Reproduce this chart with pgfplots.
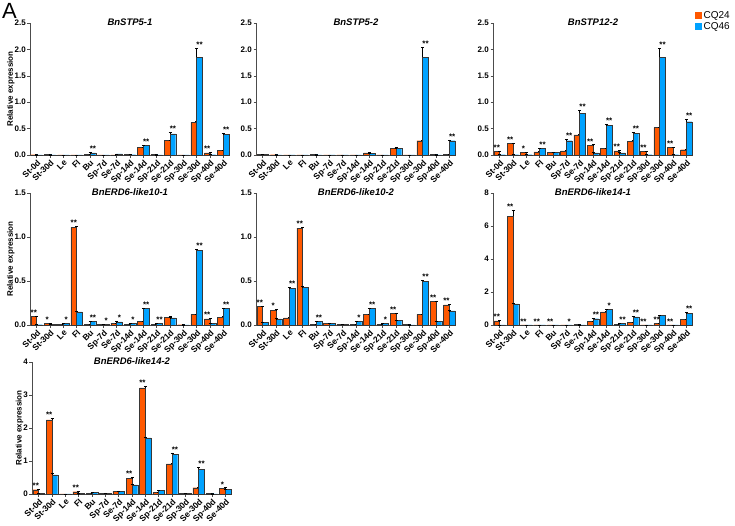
\documentclass[border=0pt]{standalone}
\usepackage{pgfplots}
\pgfplotsset{compat=1.18}
\usepackage{pgfplotstable}
\usepackage{fontspec}
\setmainfont{Liberation Sans}

\definecolor{cqA}{RGB}{255,88,0}
\definecolor{cqB}{RGB}{0,162,255}
\definecolor{edge}{RGB}{55,55,55}

% star codes: n = none, s = *, d = **
\def\stn{}
\def\sts{*}
\def\std{**}

% columns: category, CQ24 mean/err/star, CQ46 mean/err/star
\pgfplotstableread{
x a ae as b be bs
0 0.005 0 n 0.003 0 n
1 0.008 0 n 0.003 0 n
2 0.003 0 n 0.002 0 n
3 0.003 0 n 0.002 0 n
4 0.01 0 n 0.04 0.005 d
5 0.003 0 n 0.003 0 n
6 0.004 0 n 0.02 0.003 n
7 0.01 0 n 0.005 0 n
8 0.15 0.005 n 0.18 0.008 d
9 0.01 0 n 0.003 0 n
10 0.28 0.008 n 0.40 0.025 d
11 0.003 0 n 0.002 0 n
12 0.62 0.01 n 1.85 0.17 d
13 0.04 0.01 d 0.005 0 n
14 0.09 0.008 n 0.39 0.015 d
}\tabA

\pgfplotstableread{
x a ae as b be bs
0 0.01 0 n 0.008 0 n
1 0.005 0 n 0.003 0 n
2 0.002 0 n 0.002 0 n
3 0.002 0 n 0.002 0 n
4 0.006 0 n 0.003 0 n
5 0.002 0 n 0.002 0 n
6 0.002 0 n 0.002 0 n
7 0.004 0 n 0.002 0 n
8 0.04 0.003 n 0.035 0.003 n
9 0.003 0 n 0.002 0 n
10 0.12 0.005 n 0.13 0.008 n
11 0.003 0 n 0.002 0 n
12 0.27 0.01 n 1.85 0.19 d
13 0.01 0 n 0.003 0 n
14 0.006 0 n 0.27 0.015 d
}\tabB

\pgfplotstableread{
x a ae as b be bs
0 0.07 0.005 d 0.005 0 n
1 0.22 0.01 d 0.005 0 n
2 0.05 0.003 s 0.005 0 n
3 0.06 0.005 n 0.12 0.01 d
4 0.05 0.003 n 0.05 0.003 n
5 0.08 0.005 n 0.27 0.02 d
6 0.38 0.02 n 0.79 0.05 d
7 0.18 0.015 d 0.04 0.003 n
8 0.12 0.005 n 0.56 0.015 d
9 0.08 0.01 d 0.04 0.003 n
10 0.26 0.01 n 0.41 0.02 d
11 0.07 0.005 d 0.005 0 n
12 0.52 0.01 n 1.85 0.17 d
13 0.14 0.005 d 0.005 0 n
14 0.10 0.005 n 0.63 0.04 d
}\tabC

\pgfplotstableread{
x a ae as b be bs
0 0.10 0.005 d 0.003 0 n
1 0.02 0.002 s 0.01 0.001 n
2 0.01 0.001 n 0.02 0.002 s
3 1.11 0.01 d 0.15 0.005 n
4 0.01 0.001 n 0.04 0.003 d
5 0.005 0 n 0.01 0.001 s
6 0.02 0.002 n 0.035 0.003 s
7 0.005 0 n 0.02 0.002 s
8 0.04 0.003 n 0.19 0.005 d
9 0.005 0 n 0.02 0.002 d
10 0.09 0.004 n 0.08 0.004 n
11 0.003 0 n 0.002 0 n
12 0.12 0.005 n 0.85 0.01 d
13 0.07 0.004 d 0.02 0.002 n
14 0.09 0.004 n 0.19 0.005 d
}\tabD

\pgfplotstableread{
x a ae as b be bs
0 0.21 0.005 d 0.03 0.002 n
1 0.17 0.005 s 0.07 0.003 n
2 0.08 0.003 n 0.42 0.005 d
3 1.10 0.01 d 0.43 0.005 n
4 0.01 0.001 n 0.04 0.003 d
5 0.015 0.001 n 0.02 0.002 n
6 0.01 0.001 n 0.01 0.001 n
7 0.01 0.001 n 0.04 0.003 s
8 0.12 0.004 n 0.19 0.005 d
9 0.01 0.001 n 0.015 0.001 s
10 0.13 0.004 d 0.05 0.003 n
11 0.005 0 n 0.002 0 n
12 0.12 0.004 n 0.50 0.01 d
13 0.27 0.005 d 0.04 0.003 n
14 0.23 0.005 d 0.16 0.004 n
}\tabE

\pgfplotstableread{
x a ae as b be bs
0 0.25 0.02 d 0.005 0 n
1 6.60 0.35 d 1.28 0.05 n
2 0.01 0 d 0.005 0 n
3 0.01 0 d 0.005 0 n
4 0.01 0 d 0.005 0 n
5 0.005 0 n 0.005 0 s
6 0.03 0.005 n 0.01 0 n
7 0.22 0.02 n 0.38 0.03 d
8 0.80 0.02 n 0.93 0.03 s
9 0.03 0.005 n 0.12 0.01 d
10 0.17 0.01 n 0.50 0.02 d
11 0.01 0 d 0.005 0 n
12 0.08 0.005 d 0.57 0.03 n
13 0.005 0 d 0.003 0 n
14 0.33 0.02 n 0.72 0.03 d
}\tabF

\pgfplotstableread{
x a ae as b be bs
0 0.13 0.01 d 0.02 0.002 n
1 2.25 0.04 d 0.58 0.05 n
2 0.003 0 n 0.003 0 n
3 0.07 0.005 d 0.01 0.001 n
4 0.03 0.002 n 0.05 0.003 n
5 0.01 0.001 n 0.03 0.002 n
6 0.08 0.005 n 0.09 0.005 n
7 0.47 0.04 d 0.28 0.01 n
8 3.22 0.04 d 1.70 0.03 n
9 0.05 0.003 n 0.11 0.008 n
10 0.91 0.01 n 1.20 0.05 d
11 0.01 0.001 n 0.02 0.002 n
12 0.19 0.01 n 0.75 0.06 d
13 0.01 0.001 n 0.003 0 n
14 0.18 0.01 s 0.14 0.008 n
}\tabG

\pgfplotsset{
  panel/.style={
    scale only axis, width=200pt, height=132pt,
    anchor=south west,
    xmin=-0.5, xmax=14.5, ymin=0,
    axis x line*=bottom, axis y line*=left,
    axis line style={line width=0.9pt, black!70},
    xtick={0,...,14},
    xticklabels={St-0d,St-30d,Le,Fl,Bu,Sp-7d,Se-7d,Sp-14d,Se-14d,Sp-21d,Se-21d,Sp-30d,Se-30d,Sp-40d,Se-40d},
    xticklabel style={rotate=45, anchor=north east, inner sep=1pt,
      font=\bfseries\fontsize{8.5}{8.5}\selectfont},
    yticklabel style={inner sep=1.5pt, font=\bfseries\fontsize{8}{8}\selectfont},
    tick align=outside, major tick length=2.5pt,
    tick style={line width=0.6pt, black!70},
    title style={at={(0.5,1)}, anchor=north, yshift=2pt,
      font=\bfseries\itshape\fontsize{9.5}{10}\selectfont},
    ylabel style={font=\bfseries\fontsize{8}{9}\selectfont},
    ylabel shift=-5pt,
    /pgf/number format/assume math mode=true,
    clip=false,
  },
  onedec/.style={yticklabel style={/pgf/number format/fixed,
      /pgf/number format/fixed zerofill, /pgf/number format/precision=1}},
  barA/.style={ybar, bar width=0.43, bar shift=-0.215, fill=cqA, draw=edge, line width=0.4pt,
    legend image code/.code={\fill[cqA] (0pt,-3pt) rectangle (6pt,3pt);}},
  barB/.style={ybar, bar width=0.43, bar shift=0.215, fill=cqB, draw=edge, line width=0.4pt,
    legend image code/.code={\fill[cqB] (0pt,-3pt) rectangle (6pt,3pt);}},
  errs/.style={error bars/.cd, y dir=plus, y explicit,
    error bar style={line width=0.5pt, black},
    error mark options={rotate=90, mark size=1.5pt, line width=0.5pt, black}},
  stars/.style={draw=none, mark=none, forget plot,
    point meta=explicit symbolic,
    nodes near coords={\csname st\pgfplotspointmeta\endcsname},
    nodes near coords style={anchor=south, inner sep=0.5pt,
      font=\bfseries\fontsize{8}{8}\selectfont}},
}

\newcommand{\bars}[1]{%
  \addplot[barA, errs] table[x=x, y=a, y error=ae] {#1};
  \addplot[barB, errs] table[x=x, y=b, y error=be] {#1};
  \addplot[stars] table[x expr=\thisrow{x}-0.215, y expr=\thisrow{a}+\thisrow{ae}, meta=as] {#1};
  \addplot[stars] table[x expr=\thisrow{x}+0.215, y expr=\thisrow{b}+\thisrow{be}, meta=bs] {#1};
}

\begin{document}
\begin{tikzpicture}
\useasboundingbox (0pt,0pt) rectangle (735pt,-525pt);
\node[anchor=north west, inner sep=0pt, font=\fontsize{22}{22}\selectfont] at (2pt,-3pt) {A};

% row 1
\begin{axis}[panel, onedec, at={(30pt,-155pt)}, ymax=2.5, ytick={0,0.5,1,1.5,2,2.5},
  title={BnSTP5-1}, ylabel={Relative expression}]
\bars{\tabA}
\end{axis}
\begin{axis}[panel, onedec, at={(256pt,-155pt)}, ymax=2.5, ytick={0,0.5,1,1.5,2,2.5},
  title={BnSTP5-2}]
\bars{\tabB}
\end{axis}
\begin{axis}[panel, onedec, at={(493pt,-155pt)}, ymax=2.5, ytick={0,0.5,1,1.5,2,2.5},
  title={BnSTP12-2},
  legend style={at={(1.01,1.105)}, anchor=north west, draw=none, fill=none,
    font=\fontsize{10}{11}\selectfont, row sep=-1.5pt, inner sep=0pt,
    cells={anchor=west}}]
\bars{\tabC}
\legend{CQ24,CQ46}
\end{axis}

% row 2
\begin{axis}[panel, onedec, at={(30pt,-325pt)}, ymax=1.5, ytick={0,0.5,1,1.5},
  title={BnERD6-like10-1}, ylabel={Relative expression}]
\bars{\tabD}
\end{axis}
\begin{axis}[panel, onedec, at={(256pt,-325pt)}, ymax=1.5, ytick={0,0.5,1,1.5},
  title={BnERD6-like10-2}]
\bars{\tabE}
\end{axis}
\begin{axis}[panel, at={(493pt,-325pt)}, ymax=8, ytick={0,2,4,6,8},
  title={BnERD6-like14-1}]
\bars{\tabF}
\end{axis}

% row 3
\begin{axis}[panel, at={(32pt,-494pt)}, ymax=4, ytick={0,1,2,3,4},
  title={BnERD6-like14-2}, ylabel={Relative expression}]
\bars{\tabG}
\end{axis}
\end{tikzpicture}
\end{document}
